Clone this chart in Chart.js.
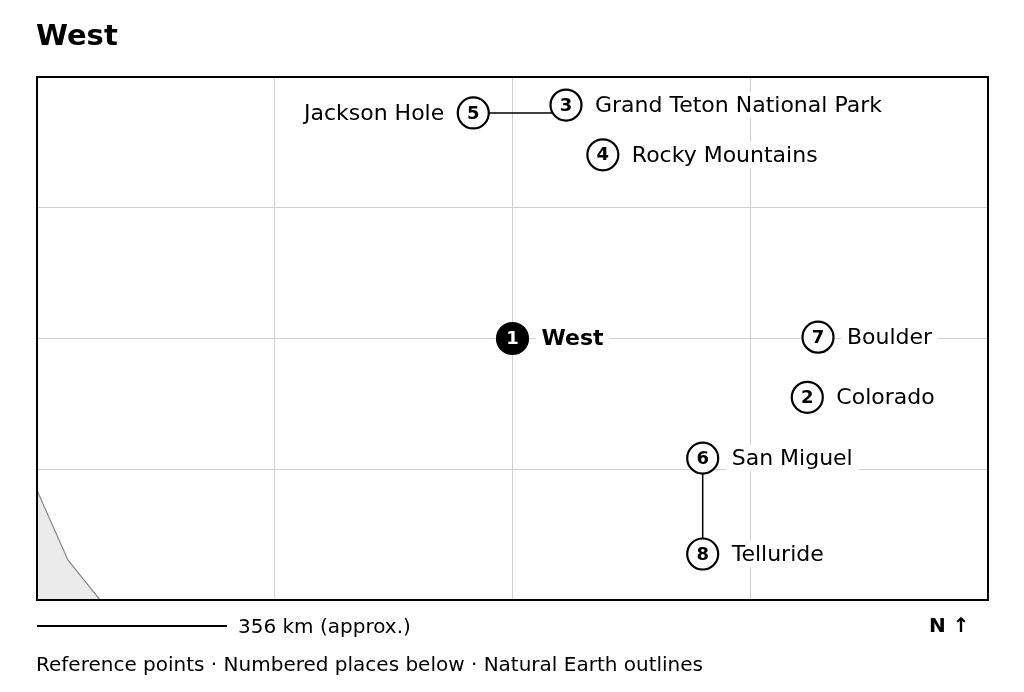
<!DOCTYPE html>
<html><head><meta charset="utf-8">
<script src="https://cdn.jsdelivr.net/npm/chart.js@4"></script>
<style>
body{margin:0;background:#fff;font-family:"DejaVu Sans",sans-serif;}
#wrap{position:absolute;left:0;top:0;width:1024px;height:692px;}
.t{position:absolute;color:#000;white-space:nowrap;}
</style></head><body>
<div id="wrap"><canvas id="map"></canvas></div>
<div class="t" style="left:36px;top:18px;font-size:29px;font-weight:bold;">West</div>
<div style="position:absolute;left:37px;top:625px;width:190px;height:2px;background:#000;"></div>
<div class="t" style="left:238px;top:614px;font-size:20px;">356 km (approx.)</div>
<div class="t" style="left:929px;top:613px;font-size:20px;font-weight:bold;">N ↑</div>
<div class="t" style="left:36px;top:652px;font-size:20px;">Reference points · Numbered places below · Natural Earth outlines</div>
<script>
const names = ["West", "Colorado", "Grand Teton National Park", "Rocky Mountains", "Jackson Hole", "San Miguel", "Boulder", "Telluride"];
const xs = [2.0, 3.24, 2.225, 2.38, 1.835, 2.8, 3.285, 2.8];
const ys = [2.0, 1.55, 3.785, 3.405, 3.725, 1.085, 2.01, 0.352];
const labelSide = ["right", "right", "right", "right", "left", "right", "right", "right"];
const landX = [0, 0.13, 0.265];
const landY = [0.84, 0.306, 0];

const places = names.map((n, i) => ({x: xs[i], y: ys[i]}));
// leader lines: Jackson Hole -> Grand Teton (horizontal), San Miguel -> Telluride
const linkSets = [
  [places[4], {x: xs[2], y: ys[4]}],
  [places[5], places[7]]
].map(d => ({type: "line", data: d, borderColor: "#000", borderWidth: 1.5, pointRadius: 0, order: 2}));

const labelPlugin = {
  id: "labels",
  afterDatasetsDraw(chart) {
    const ctx = chart.ctx, sx = chart.scales.x, sy = chart.scales.y;
    const a = chart.chartArea;
    ctx.save();
    ctx.strokeStyle = "#000"; ctx.lineWidth = 2;
    ctx.strokeRect(a.left, a.top, a.right - a.left, a.bottom - a.top);
    ctx.textBaseline = "middle";
    names.forEach((n, i) => {
      const px = sx.getPixelForValue(xs[i]), py = sy.getPixelForValue(ys[i]);
      ctx.font = (i === 0 ? "bold " : "") + "22px 'DejaVu Sans'";
      const w = ctx.measureText(n).width;
      const lx = labelSide[i] === "left" ? px - 29 - w : px + 29;
      ctx.fillStyle = "#fff";
      ctx.fillRect(lx - 6, py - 13, w + 12, 26);
      ctx.fillStyle = "#000";
      ctx.textAlign = "left";
      ctx.fillText(n, lx, py + 1);
      ctx.font = "bold 18px 'DejaVu Sans'";
      ctx.textAlign = "center";
      ctx.fillStyle = i === 0 ? "#fff" : "#000";
      ctx.fillText(String(i + 1), px, py + 1);
    });
    ctx.restore();
  }
};

new Chart(document.getElementById("map"), {
  type: "scatter",
  data: {
    datasets: [
      {
        type: "line",
        data: landX.map((x, i) => ({x, y: landY[i]})),
        borderColor: "#888", borderWidth: 1.2, backgroundColor: "#ebebeb",
        fill: {value: 0}, pointRadius: 0, order: 3
      },
      ...linkSets,
      {
        data: places,
        pointRadius: 15.5,
        pointBackgroundColor: places.map((p, i) => i === 0 ? "#000" : "#fff"),
        pointBorderColor: "#000", pointBorderWidth: 2.2, order: 1
      }
    ]
  },
  options: {
    responsive: true, maintainAspectRatio: false, animation: false,
    layout: {padding: {left: 37, right: 36, top: 77, bottom: 92}},
    plugins: {legend: {display: false}, tooltip: {enabled: false}},
    scales: {
      x: {type: "linear", min: 0, max: 4, ticks: {display: false, stepSize: 1},
          grid: {color: "#d0d0d0", drawTicks: false}, border: {display: false}},
      y: {type: "linear", min: 0, max: 4, ticks: {display: false, stepSize: 1},
          grid: {color: "#d0d0d0", drawTicks: false}, border: {display: false}}
    }
  },
  plugins: [labelPlugin]
});
</script></body></html>
